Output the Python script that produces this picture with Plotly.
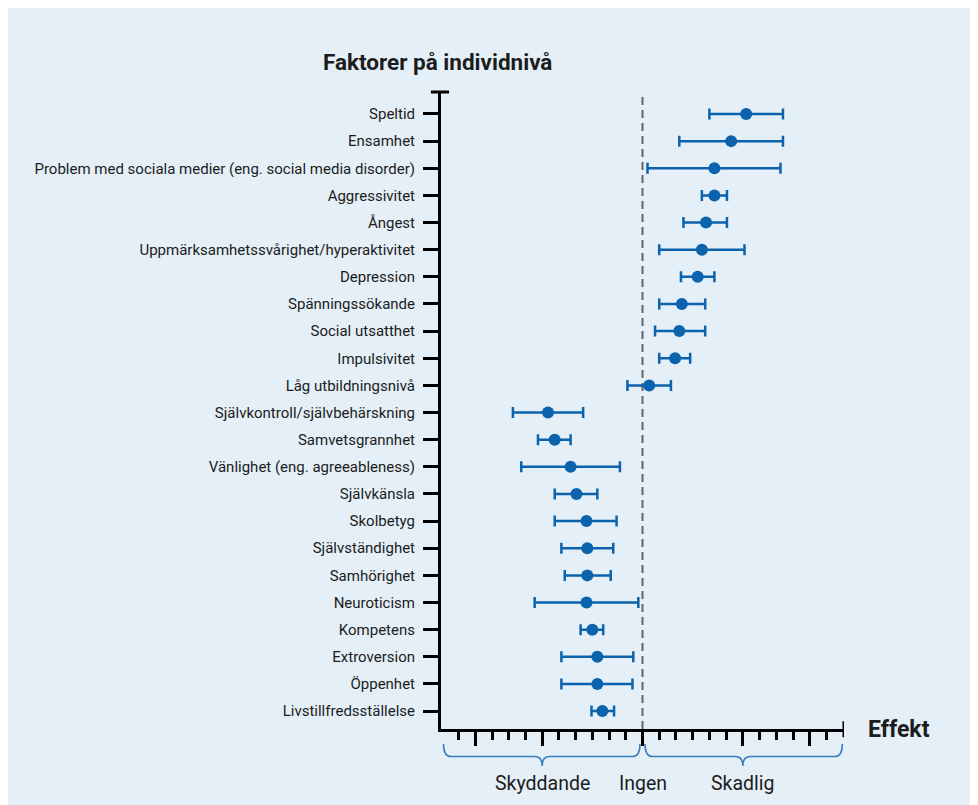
import plotly.graph_objects as go

# ---------------- data ----------------
factors = [
    "Speltid",
    "Ensamhet",
    "Problem med sociala medier (eng. social media disorder)",
    "Aggressivitet",
    "Ångest",
    "Uppmärksamhetssvårighet/hyperaktivitet",
    "Depression",
    "Spänningssökande",
    "Social utsatthet",
    "Impulsivitet",
    "Låg utbildningsnivå",
    "Självkontroll/självbehärskning",
    "Samvetsgrannhet",
    "Vänlighet (eng. agreeableness)",
    "Självkänsla",
    "Skolbetyg",
    "Självständighet",
    "Samhörighet",
    "Neuroticism",
    "Kompetens",
    "Extroversion",
    "Öppenhet",
    "Livstillfredsställelse",
]
effect = [0.124, 0.106, 0.086, 0.086, 0.076, 0.071, 0.066, 0.047, 0.044, 0.039, 0.008,
          -0.113, -0.105, -0.086, -0.079, -0.067, -0.066, -0.066, -0.067, -0.060,
          -0.054, -0.054, -0.048]
ci_low = [0.080, 0.044, 0.006, 0.071, 0.049, 0.020, 0.046, 0.020, 0.015, 0.020, -0.018,
          -0.155, -0.125, -0.145, -0.105, -0.105, -0.097, -0.093, -0.129, -0.074,
          -0.097, -0.097, -0.061]
ci_high = [0.168, 0.168, 0.165, 0.101, 0.101, 0.122, 0.086, 0.075, 0.075, 0.057, 0.034,
           -0.071, -0.086, -0.027, -0.054, -0.031, -0.035, -0.038, -0.005, -0.047,
           -0.011, -0.012, -0.034]

x_range = [-0.241, 0.241]
major_ticks = [-0.2, -0.12, 0, 0.12, 0.2]
minor_ticks = [round(-0.22 + 0.02 * i, 2) for i in range(23)]
side_labels = ["Skyddande", "Ingen", "Skadlig"]
side_pos = [-0.12, 0.0, 0.12]
title_text = "Faktorer på individnivå"
x_title = "Effekt"

BLUE = "#0b63ad"
BRACE = "#3d7dbf"
INK = "#1c1c1c"
FONT = "Roboto"

ypos = list(range(len(factors)))

fig = go.Figure()
fig.add_trace(go.Scatter(
    x=effect, y=ypos, mode="markers",
    marker=dict(color=BLUE, size=12),
    error_x=dict(
        type="data", symmetric=False,
        array=[h - e for h, e in zip(ci_high, effect)],
        arrayminus=[e - l for e, l in zip(effect, ci_low)],
        color=BLUE, thickness=2.5, width=5.5,
    ),
    showlegend=False, hoverinfo="skip",
))

# zero reference line
fig.add_shape(type="line", xref="x", yref="paper", x0=0, x1=0, y0=0, y1=1,
              line=dict(color="#666666", width=2, dash="8px,5px"), layer="below")

# axis end caps
fig.add_shape(type="line", xref="paper", yref="paper", x0=-0.025, x1=0.02, y0=1, y1=1,
              line=dict(color="black", width=3))
fig.add_shape(type="line", xref="x", yref="paper", x0=x_range[1], x1=x_range[1],
              y0=0.012, y1=-0.013, line=dict(color="black", width=3))

# braces
def brace(x0, x1, xm, ytop=-0.0235, ymid=-0.0432, ydip=-0.058, r=0.009):
    return (f"M {x0},{ytop} Q {x0},{ymid} {x0 + r},{ymid} L {xm - r},{ymid} "
            f"Q {xm},{ymid} {xm},{ydip} Q {xm},{ymid} {xm + r},{ymid} "
            f"L {x1 - r},{ymid} Q {x1},{ymid} {x1},{ytop}")

fig.add_shape(type="path", xref="x", yref="paper",
              path=brace(x_range[0] + 0.003, -0.003, side_pos[0]),
              line=dict(color=BRACE, width=1.6))
fig.add_shape(type="path", xref="x", yref="paper",
              path=brace(0.003, x_range[1] - 0.002, side_pos[2]),
              line=dict(color=BRACE, width=1.6))

for lab, xp in zip(side_labels, side_pos):
    fig.add_annotation(x=xp, y=-0.085, xref="x", yref="paper", text=lab,
                       showarrow=False, xanchor="center", yanchor="middle",
                       font=dict(family=FONT, size=19.5, color=INK))

fig.add_annotation(x=-0.2978, y=1.047, xref="paper", yref="paper", text=title_text,
                   showarrow=False, xanchor="left", yanchor="middle",
                   font=dict(family=FONT, size=22.5, color=INK, weight="bold"))
fig.add_annotation(x=1.054, y=0.0, xref="paper", yref="paper", text=x_title,
                   showarrow=False, xanchor="left", yanchor="middle",
                   font=dict(family=FONT, size=23, color=INK, weight="bold"))

fig.update_xaxes(
    range=x_range, showgrid=False, zeroline=False,
    showline=True, linecolor="black", linewidth=3,
    tickmode="array", tickvals=major_ticks, ticks="outside",
    ticklen=14, tickwidth=3, tickcolor="black", showticklabels=False,
    minor=dict(tickmode="array", tickvals=minor_ticks, ticks="outside",
               ticklen=8, tickwidth=2.5, tickcolor="black"),
)
fig.update_yaxes(
    range=[len(factors) - 0.34, -0.81], showgrid=False, zeroline=False,
    showline=True, linecolor="black", linewidth=3,
    tickmode="array", tickvals=ypos, ticktext=factors,
    ticks="outside", ticklen=15, tickwidth=3, tickcolor="black",
    ticklabelstandoff=5,
    tickfont=dict(family=FONT, size=15, color=INK),
)

fig.update_layout(
    width=978, height=805,
    margin=dict(l=433, r=142, t=84, b=84),
    paper_bgcolor="#e4eff7", plot_bgcolor="rgba(0,0,0,0)",
)

fig.write_html("out.html")
